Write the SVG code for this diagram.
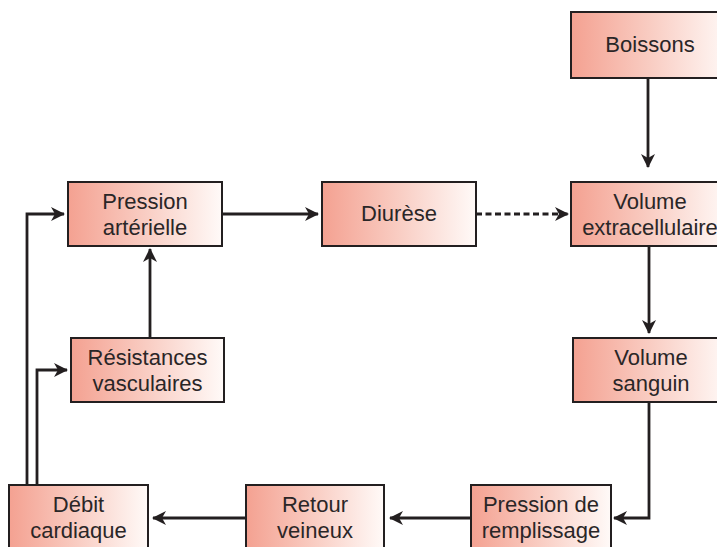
<svg xmlns="http://www.w3.org/2000/svg" width="717" height="547" viewBox="0 0 717 547">
<style>
.box{fill:url(#g);stroke:#231f20;stroke-width:2}
.t{font-family:"Liberation Sans",Arial,sans-serif;font-size:22px;fill:#2a2627;text-anchor:middle}
.c{fill:none;stroke:#231f20;stroke-width:2.8;marker-end:url(#a)}
.d{stroke-dasharray:6 3.5}
</style>
<defs>
<linearGradient id="g" x1="0" y1="0" x2="1" y2="0">
<stop offset="0" stop-color="#f4a191"/>
<stop offset="0.5" stop-color="#f9cdc3"/>
<stop offset="1" stop-color="#fffaf8"/>
</linearGradient>
<marker id="a" viewBox="0 0 14 14" refX="13" refY="7" markerWidth="14" markerHeight="14" markerUnits="userSpaceOnUse" orient="auto">
<path d="M0,0 L14,7 L0,14 L4,7 z" fill="#231f20"/>
</marker>
</defs>
<rect width="717" height="547" fill="#fff"/>
<g id="connectors">
<path class="c" d="M648,78 V167"/>
<path class="c" d="M649,246 V333"/>
<path class="c" d="M222,214 H318"/>
<path class="c d" d="M476,214 H568"/>
<path class="c" d="M150,338 V249"/>
<path class="c" d="M649,402 V518 H614"/>
<path class="c" d="M471,518 H390"/>
<path class="c" d="M246,518 H153"/>
<path class="c" d="M27,485 V214 H64"/>
<path class="c" d="M37,485 V370 H67"/>
</g>
<g id="boissons"><rect class="box" x="571" y="12" width="160" height="66"/><text class="t" x="650" y="52">Boissons</text></g>
<g id="volume-extracellulaire"><rect class="box" x="571" y="182" width="158" height="64"/><text class="t" x="650" y="209">Volume</text><text class="t" x="650" y="235">extracellulaire</text></g>
<g id="pression-arterielle"><rect class="box" x="68" y="182" width="154" height="64"/><text class="t" x="145" y="209">Pression</text><text class="t" x="145" y="235">artérielle</text></g>
<g id="diurese"><rect class="box" x="322" y="182" width="154" height="64"/><text class="t" x="399" y="221">Diurèse</text></g>
<g id="resistances"><rect class="box" x="71" y="338" width="153" height="64"/><text class="t" x="147.5" y="365">Résistances</text><text class="t" x="147.5" y="391">vasculaires</text></g>
<g id="volume-sanguin"><rect class="box" x="573" y="338" width="156" height="64"/><text class="t" x="651" y="365">Volume</text><text class="t" x="651" y="391">sanguin</text></g>
<g id="debit-cardiaque"><rect class="box" x="9" y="485" width="139" height="66"/><text class="t" x="78.5" y="512">Débit</text><text class="t" x="78.5" y="538">cardiaque</text></g>
<g id="retour-veineux"><rect class="box" x="246" y="485" width="138" height="66"/><text class="t" x="315" y="512">Retour</text><text class="t" x="315" y="538">veineux</text></g>
<g id="pression-remplissage"><rect class="box" x="471" y="485" width="140" height="66"/><text class="t" x="541" y="512">Pression de</text><text class="t" x="541" y="538">remplissage</text></g>
</svg>
